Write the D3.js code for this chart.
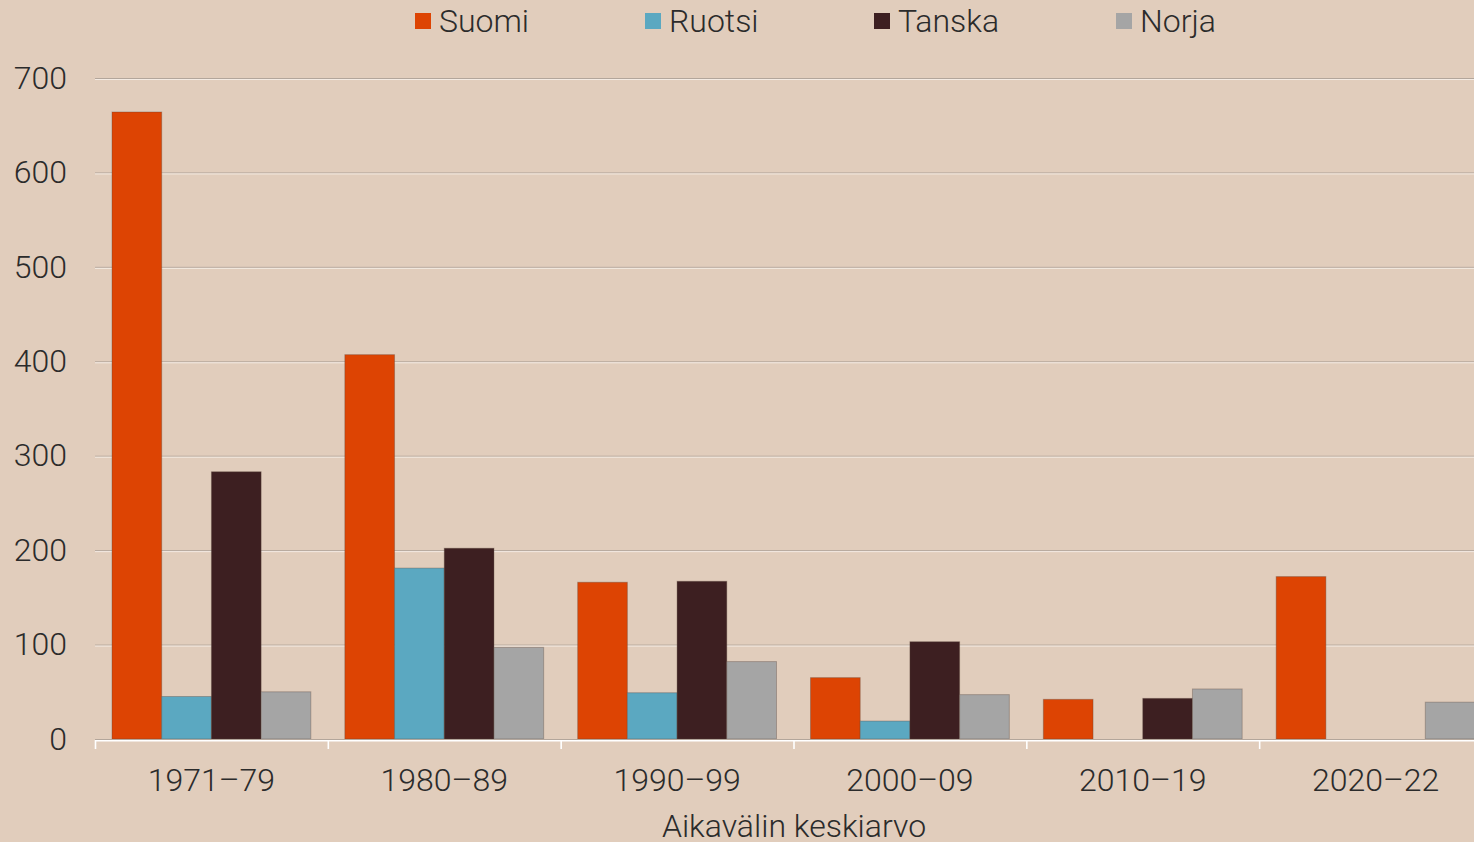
<!DOCTYPE html>
<html>
<head>
<meta charset="utf-8">
<script src="https://cdn.jsdelivr.net/npm/d3@7"></script>
<style>
  body { margin: 0; background: #e1cdbc; overflow: hidden; }
  svg { display: block; font-family: Roboto, "Noto Sans", sans-serif; font-weight: 300; }
</style>
</head>
<body>
<div class="chart"></div>
<script>
// data
var periods = ["1971–79", "1980–89", "1990–99", "2000–09", "2010–19", "2020–22"];
var seriesNames = ["Suomi", "Ruotsi", "Tanska", "Norja"];
var suomi  = [664, 407, 166, 65, 42, 172];
var ruotsi = [45, 181, 49, 19, 0, 0];
var tanska = [283, 202, 167, 103, 43, 0];
var norja  = [50, 97, 82, 47, 53, 39];
var yTicks = [0, 100, 200, 300, 400, 500, 600, 700];
var colors = ["#dd4403", "#5ba8c1", "#3d1f21", "#a5a5a5"];

var svgWidth = 1474;
var svgHeight = 842;
var margin = {top: 78, right: -18, bottom: 103, left: 95};
var chartWidth = svgWidth - margin.left - margin.right;
var chartHeight = svgHeight - margin.top - margin.bottom;
var fontSize = 32;

var allValues = [suomi, ruotsi, tanska, norja];

var svg = d3.select(".chart")
  .append("svg")
  .attr("width", svgWidth)
  .attr("height", svgHeight);

var chart = svg.append("g")
  .attr("transform", "translate(" + margin.left + "," + margin.top + ")");

var x0 = d3.scaleBand().domain(periods).range([0, chartWidth]).padding(0);
var x1 = d3.scaleBand().domain(seriesNames).range([17, x0.bandwidth() - 17]).padding(0);
var y = d3.scaleLinear().domain([0, 700]).range([chartHeight, 0]);

// gridlines (gray with a white highlight under)
var grid = chart.append("g");
yTicks.filter(function(t) { return t > 0; }).forEach(function(t) {
  grid.append("line")
    .attr("x1", 0).attr("x2", chartWidth)
    .attr("y1", y(t) + 0.5).attr("y2", y(t) + 0.5)
    .attr("stroke", "#b3a69b").attr("stroke-width", 1);
  grid.append("line")
    .attr("x1", 0).attr("x2", chartWidth)
    .attr("y1", y(t) + 1.5).attr("y2", y(t) + 1.5)
    .attr("stroke", "#f4ebe3").attr("stroke-width", 1);
});

// bars
var groups = chart.selectAll(".grp")
  .data(periods)
  .enter().append("g")
  .attr("transform", function(d) { return "translate(" + x0(d) + ",0)"; });

groups.selectAll("rect")
  .data(function(d, i) {
    return seriesNames.map(function(s, j) { return {key: s, idx: j, value: allValues[j][i]}; })
      .filter(function(e) { return e.value > 0; });
  })
  .enter().append("rect")
  .attr("x", function(d) { return x1(d.key); })
  .attr("width", x1.bandwidth())
  .attr("y", function(d) { return y(d.value); })
  .attr("height", function(d) { return y(0) - y(d.value); })
  .attr("fill", function(d) { return colors[d.idx]; })
  .attr("stroke", "rgba(90,70,60,0.35)")
  .attr("stroke-width", 1);

// x axis: baseline + category ticks
var xAxisG = chart.append("g").attr("transform", "translate(0," + chartHeight + ")");
xAxisG.append("line")
  .attr("x1", 0).attr("x2", chartWidth)
  .attr("y1", 0.5).attr("y2", 0.5)
  .attr("stroke", "#b3a69b");
xAxisG.append("line")
  .attr("x1", 0).attr("x2", chartWidth)
  .attr("y1", 1.8).attr("y2", 1.8)
  .attr("stroke", "#ffffff").attr("stroke-width", 1.6);
periods.forEach(function(p) {
  xAxisG.append("line")
    .attr("x1", x0(p) + 0.5).attr("x2", x0(p) + 0.5)
    .attr("y1", 1).attr("y2", 10)
    .attr("stroke", "#ffffff").attr("stroke-width", 1.6);
});
xAxisG.selectAll(".xl")
  .data(periods)
  .enter().append("text")
  .attr("x", function(d) { return x0(d) + x0.bandwidth() / 2; })
  .attr("y", 52)
  .attr("text-anchor", "middle")
  .attr("font-size", fontSize)
  .attr("fill", "#2b2b2b")
  .text(function(d) { return d; });

// y labels
var yAxis = d3.axisLeft(y).tickValues(yTicks).tickSize(0).tickPadding(28);
var yAxisG = chart.append("g").call(yAxis);
yAxisG.select(".domain").remove();
yAxisG.selectAll("text")
  .attr("font-size", fontSize)
  .attr("font-family", "Roboto, sans-serif")
  .attr("fill", "#2b2b2b");

// axis title
svg.append("text")
  .attr("x", 794)
  .attr("y", 837)
  .attr("text-anchor", "middle")
  .attr("font-size", fontSize)
  .attr("fill", "#2b2b2b")
  .text("Aikavälin keskiarvo");

// legend
var legendX = [415, 645, 874, 1116];
var legend = svg.selectAll(".leg")
  .data(seriesNames)
  .enter().append("g")
  .attr("transform", function(d, i) { return "translate(" + legendX[i] + ",0)"; });
legend.append("rect")
  .attr("x", 0).attr("y", 13)
  .attr("width", 16).attr("height", 16)
  .attr("fill", function(d, i) { return colors[i]; });
legend.append("text")
  .attr("x", 24).attr("y", 32)
  .attr("font-size", fontSize)
  .attr("fill", "#2b2b2b")
  .text(function(d) { return d; });
</script>
</body>
</html>
